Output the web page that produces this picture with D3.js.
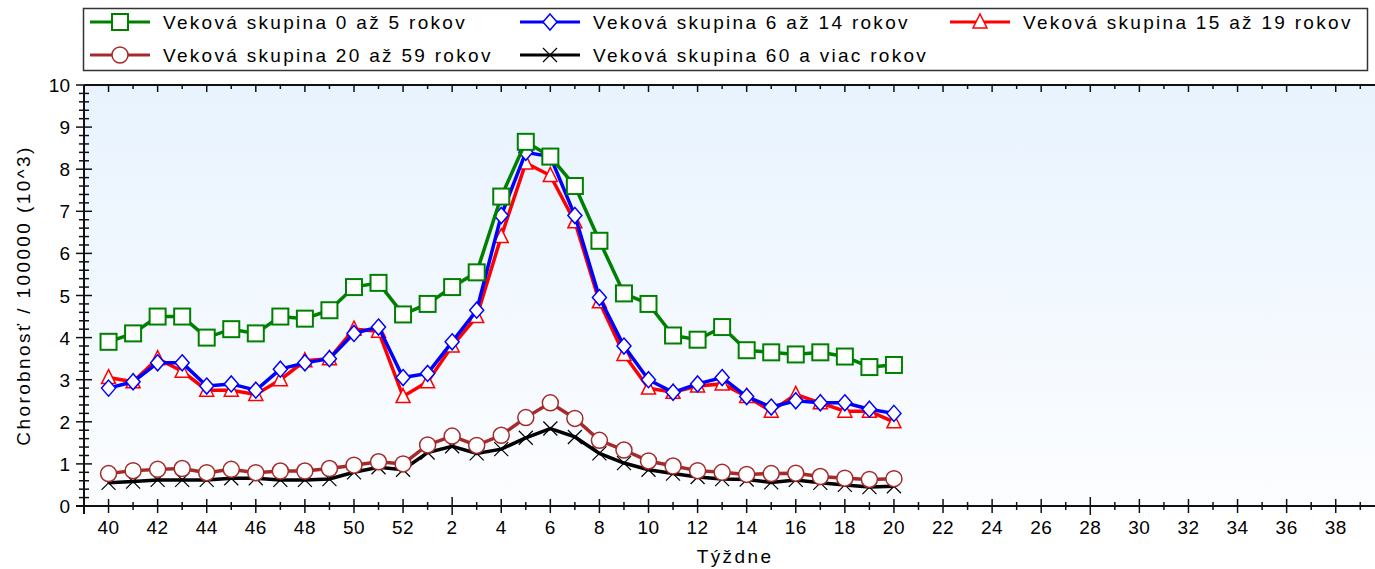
<!DOCTYPE html>
<html>
<head>
<meta charset="utf-8">
<script src="https://cdn.jsdelivr.net/npm/d3@7"></script>
<style>
  body { margin: 0; background: #fff; }
  svg { display: block; font-family: "Liberation Sans", Arial, sans-serif; }
</style>
</head>
<body>
<div id="chart"></div>
<script>
// week labels, season 40..52 then 1..39
var weeks = [40, 41, 42, 43, 44, 45, 46, 47, 48, 49, 50, 51, 52,
  1, 2, 3, 4, 5, 6, 7, 8, 9, 10, 11, 12, 13, 14, 15, 16, 17, 18, 19, 20,
  21, 22, 23, 24, 25, 26, 27, 28, 29, 30, 31, 32, 33, 34, 35, 36, 37, 38, 39];

var age0to5 = [3.9, 4.1, 4.5, 4.5, 4.0, 4.2, 4.1, 4.5, 4.45, 4.65, 5.2, 5.3, 4.55,
  4.8, 5.2, 5.55, 7.35, 8.65, 8.3, 7.6, 6.3, 5.05, 4.8, 4.05, 3.95, 4.25, 3.7, 3.65, 3.6, 3.65, 3.55, 3.3, 3.35];
var age6to14 = [2.8, 2.95, 3.4, 3.4, 2.85, 2.9, 2.75, 3.25, 3.4, 3.5, 4.1, 4.25, 3.05,
  3.15, 3.9, 4.65, 6.9, 8.4, 8.3, 6.9, 4.95, 3.8, 3.0, 2.7, 2.9, 3.05, 2.6, 2.35, 2.5, 2.45, 2.45, 2.3, 2.2];
var age15to19 = [3.05, 2.95, 3.5, 3.2, 2.75, 2.75, 2.65, 3.0, 3.45, 3.5, 4.2, 4.15, 2.6,
  2.95, 3.8, 4.5, 6.4, 8.15, 7.85, 6.75, 4.85, 3.6, 2.8, 2.7, 2.85, 2.9, 2.6, 2.25, 2.65, 2.45, 2.25, 2.25, 2.0];
var age20to59 = [0.77, 0.84, 0.87, 0.89, 0.79, 0.87, 0.79, 0.83, 0.83, 0.89, 0.97, 1.05, 1.0,
  1.45, 1.66, 1.44, 1.68, 2.1, 2.45, 2.08, 1.56, 1.33, 1.07, 0.95, 0.84, 0.8, 0.75, 0.77, 0.78, 0.7, 0.66, 0.63, 0.65];
var age60plus = [0.55, 0.58, 0.62, 0.62, 0.62, 0.66, 0.66, 0.62, 0.62, 0.64, 0.8, 0.92, 0.86,
  1.27, 1.42, 1.25, 1.35, 1.62, 1.84, 1.64, 1.25, 1.02, 0.86, 0.77, 0.69, 0.64, 0.63, 0.56, 0.62, 0.55, 0.5, 0.45, 0.47];

var yTicks = [0, 1, 2, 3, 4, 5, 6, 7, 8, 9, 10];

var series = [
  { name: "Veková skupina 60 a viac rokov", values: age60plus, color: "#000000", symbol: "x", lx: 523, ly: 55 },
  { name: "Veková skupina 20 až 59 rokov", values: age20to59, color: "#a52a2a", symbol: "circle", lx: 93, ly: 55 },
  { name: "Veková skupina 15 až 19 rokov", values: age15to19, color: "#ff0000", symbol: "triangle", lx: 953, ly: 22 },
  { name: "Veková skupina 6 až 14 rokov", values: age6to14, color: "#0000ff", symbol: "diamond", lx: 523, ly: 22 },
  { name: "Veková skupina 0 až 5 rokov", values: age0to5, color: "#008000", symbol: "square", lx: 93, ly: 22 }
];

(function() {
var W = 1375, H = 569;
var pLeft = 84, pTop = 85, pBottom = 506, pRight = 1375;

var svg = d3.select("#chart").append("svg")
  .attr("width", W)
  .attr("height", H);

var defs = svg.append("defs");
var grad = defs.append("linearGradient")
  .attr("id", "bg")
  .attr("x1", 0).attr("y1", 0).attr("x2", 0).attr("y2", 1);
grad.append("stop").attr("offset", "0%").attr("stop-color", "#e8f3fe");
grad.append("stop").attr("offset", "100%").attr("stop-color", "#fcfdff");

var x = d3.scaleLinear().domain([-1, 51.6]).range([pLeft, pRight]);
var y = d3.scaleLinear().domain([0, 10]).range([pBottom, pTop]);

svg.append("rect")
  .attr("x", pLeft).attr("y", pTop)
  .attr("width", pRight - pLeft).attr("height", pBottom - pTop)
  .attr("fill", "url(#bg)");

// symbols
function drawSymbol(g, type, cx, cy, color) {
  if (type === "square") {
    g.append("rect").attr("x", cx - 8).attr("y", cy - 8).attr("width", 16).attr("height", 16)
      .attr("fill", "#fff").attr("stroke", color).attr("stroke-width", 2);
  } else if (type === "diamond") {
    g.append("path").attr("d", "M" + cx + "," + (cy - 8) + "L" + (cx + 7) + "," + cy + "L" + cx + "," + (cy + 8) + "L" + (cx - 7) + "," + cy + "Z")
      .attr("fill", "#fff").attr("stroke", color).attr("stroke-width", 1.5);
  } else if (type === "triangle") {
    g.append("path").attr("d", "M" + cx + "," + (cy - 8) + "L" + (cx + 7) + "," + (cy + 6) + "L" + (cx - 7) + "," + (cy + 6) + "Z")
      .attr("fill", "#fff").attr("stroke", color).attr("stroke-width", 1.5);
  } else if (type === "circle") {
    g.append("circle").attr("cx", cx).attr("cy", cy).attr("r", 8)
      .attr("fill", "#fff").attr("stroke", color).attr("stroke-width", 1.5);
  } else if (type === "x") {
    g.append("path").attr("d", "M" + (cx - 7) + "," + (cy - 7) + "L" + (cx + 7) + "," + (cy + 7) + "M" + (cx + 7) + "," + (cy - 7) + "L" + (cx - 7) + "," + (cy + 7))
      .attr("stroke", color).attr("stroke-width", 1.2).attr("fill", "none");
  }
}

var line = d3.line()
  .x(function(d, i) { return x(i); })
  .y(function(d) { return y(d); });

var plot = svg.append("g");
series.forEach(function(s) {
  plot.append("path")
    .datum(s.values)
    .attr("d", line)
    .attr("fill", "none")
    .attr("stroke", s.color)
    .attr("stroke-width", 3.5);
  var mg = plot.append("g");
  s.values.forEach(function(v, i) {
    drawSymbol(mg, s.symbol, x(i), y(v), s.color);
  });
});

// axes
var ax = svg.append("g").attr("stroke", "#111");

ax.append("line").attr("x1", pLeft).attr("x2", pRight).attr("y1", pTop).attr("y2", pTop).attr("stroke-width", 2);
ax.append("line").attr("x1", pLeft - 8).attr("x2", pRight).attr("y1", pBottom).attr("y2", pBottom).attr("stroke-width", 2);
ax.append("line").attr("x1", pLeft).attr("x2", pLeft).attr("y1", pTop).attr("y2", pBottom + 8).attr("stroke-width", 2);

weeks.forEach(function(w, i) {
  var px = x(i);
  var even = w % 2 === 0;
  var len = even ? 7 : 4;
  if (w === 2 || w === 28) len = 9;
  ax.append("line").attr("x1", px).attr("x2", px).attr("y1", pBottom - len).attr("y2", pBottom + len).attr("stroke-width", 1.5);
  ax.append("line").attr("x1", px).attr("x2", px).attr("y1", pTop).attr("y2", pTop + (even ? 7 : 4)).attr("stroke-width", 1.5);
  if (even) {
    svg.append("text")
      .attr("x", px).attr("y", pBottom + 28)
      .attr("text-anchor", "middle")
      .attr("font-size", 19)
      .attr("letter-spacing", 0.5)
      .attr("fill", "#000")
      .text(w);
  }
});

d3.range(0, 50).forEach(function(k) {
  if (k % 5 === 0) return;
  var v = k / 5;
  ax.append("line").attr("x1", pLeft - 5).attr("x2", pLeft + 5).attr("y1", y(v)).attr("y2", y(v)).attr("stroke-width", 1.5);
});
yTicks.forEach(function(t) {
  ax.append("line").attr("x1", pLeft - 8).attr("x2", pLeft + 8).attr("y1", y(t)).attr("y2", y(t)).attr("stroke-width", 1.5);
  svg.append("text")
    .attr("x", pLeft - 14).attr("y", y(t) + 7)
    .attr("text-anchor", "end")
    .attr("font-size", 19)
    .attr("fill", "#000")
    .text(t);
});

svg.append("text")
  .attr("transform", "translate(30," + ((pTop + pBottom) / 2) + ") rotate(-90)")
  .attr("text-anchor", "middle")
  .attr("font-size", 19)
  .attr("letter-spacing", 2.4)
  .attr("fill", "#000")
  .text("Chorobnosť / 100000 (10^3)");

svg.append("text")
  .attr("x", 735).attr("y", 563)
  .attr("text-anchor", "middle")
  .attr("font-size", 19)
  .attr("letter-spacing", 2.4)
  .attr("fill", "#000")
  .text("Týždne");

// legend
var lg = svg.append("g");
lg.append("rect")
  .attr("x", 83.5).attr("y", 8.5)
  .attr("width", 1284).attr("height", 62)
  .attr("fill", "#fff")
  .attr("stroke", "#333")
  .attr("stroke-width", 1.5);

series.forEach(function(s) {
  var g = lg.append("g");
  g.append("line")
    .attr("x1", s.lx - 3).attr("x2", s.lx + 57)
    .attr("y1", s.ly).attr("y2", s.ly)
    .attr("stroke", s.color).attr("stroke-width", 3);
  drawSymbol(g, s.symbol, s.lx + 27, s.ly, s.color);
  g.append("text")
    .attr("x", s.lx + 70).attr("y", s.ly + 7)
    .attr("font-size", 19)
    .attr("letter-spacing", 2.3)
    .attr("fill", "#000")
    .text(s.name);
});
})();
</script>
</body>
</html>
